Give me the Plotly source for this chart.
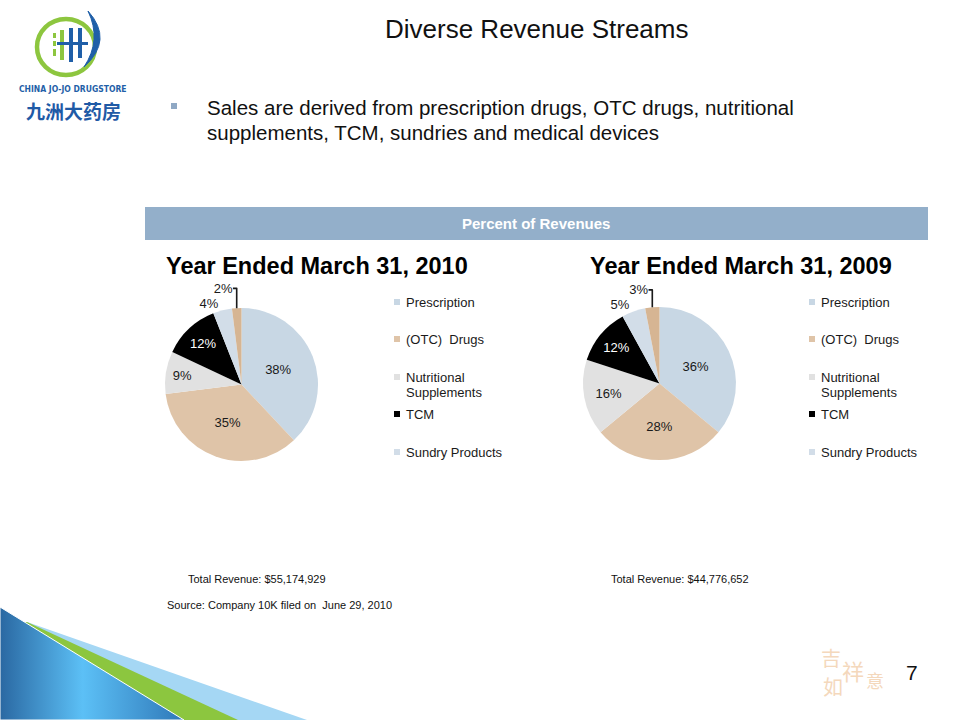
import plotly.graph_objects as go

# ---------------- data ----------------
categories = ["Prescription", "(OTC)  Drugs", "Nutritional Supplements", "TCM", "Sundry Products", "Medical Devices"]
legend_labels = [["Prescription"], ["(OTC)  Drugs"], ["Nutritional", "Supplements"], ["TCM"], ["Sundry Products"]]
share_2010 = [38, 35, 9, 12, 4, 2]
share_2009 = [36, 28, 16, 12, 5, 3]
slice_colors = ["#c8d7e4", "#dfc4a8", "#e1e1e1", "#000000", "#d2dde8", "#d6b593"]
text_colors = ["#1a1a1a", "#1a1a1a", "#1a1a1a", "#ffffff", "#1a1a1a", "#1a1a1a"]
text_pos = ["inside", "inside", "inside", "inside", "outside", "outside"]
panel_titles = ["Year Ended March 31, 2010", "Year Ended March 31, 2009"]
totals = ["Total Revenue: $55,174,929", "Total Revenue: $44,776,652"]
bullet_lines = ["Sales are derived from prescription drugs, OTC drugs, nutritional",
                "supplements, TCM, sundries and medical devices"]

W, H = 960, 720
FONT = "Liberation Sans, Arial, sans-serif"


def dom_x(x0, x1):
    return [x0 / W, x1 / W]


def dom_y(y0, y1):
    return [1 - y1 / H, 1 - y0 / H]


fig = go.Figure()

# hidden pixel-space axes for decorations
fig.update_layout(
    xaxis=dict(range=[0, W], visible=False, fixedrange=True, domain=[0, 1]),
    yaxis=dict(range=[H, 0], visible=False, fixedrange=True, domain=[0, 1]),
)

# bottom-left decorative wedges
fig.add_trace(go.Scatter(
    x=[27, 307, 0, 0, 27], y=[622, 720, 720, 622, 622],
    fill="toself", mode="lines", line=dict(width=0), fillcolor="#a5d7f4",
    hoverinfo="skip", showlegend=False))
fig.add_trace(go.Scatter(
    x=[27, 238, 0, 0, 27], y=[622, 720, 720, 622, 622],
    fill="toself", mode="lines", line=dict(width=0), fillcolor="#8cc63f",
    hoverinfo="skip", showlegend=False))
fig.add_trace(go.Scatter(
    x=[0, 184, 0, 0], y=[607, 720, 720, 607],
    fill="toself", mode="lines", line=dict(width=1, color="#ffffff"),
    fillgradient=dict(type="horizontal",
                      colorscale=[[0, "#2a68a2"], [0.45, "#5cc0f6"], [1, "#2f78b8"]]),
    hoverinfo="skip", showlegend=False))

pie_centers = [(241.5, 384.5), (659.5, 383.5)]
R = 76.5
for i, vals in enumerate([share_2010, share_2009]):
    cx, cy = pie_centers[i]
    fig.add_trace(go.Pie(
        labels=categories, values=vals, sort=False, direction="clockwise", rotation=0,
        marker=dict(colors=slice_colors, line=dict(width=0)),
        texttemplate="%{percent:.0%}", textposition=text_pos,
        insidetextorientation="horizontal",
        textfont=dict(family=FONT, size=13, color=text_colors),
        outsidetextfont=dict(family=FONT, size=13, color="#1a1a1a"),
        domain=dict(x=dom_x(cx - R, cx + R), y=dom_y(cy - R, cy + R)),
        showlegend=False, hoverinfo="label+percent"))

shapes = []
ann = []

# banner
shapes.append(dict(type="rect", xref="x", yref="y", x0=145, x1=928, y0=207, y1=240,
                   fillcolor="#93afca", line=dict(width=0), layer="below"))
ann.append(dict(x=536, y=223.5, text="<b>Percent of Revenues</b>", showarrow=False,
                font=dict(family=FONT, size=15, color="white")))

# title
ann.append(dict(x=536, y=29, text="Diverse Revenue Streams", showarrow=False,
                font=dict(family=FONT, size=26, color="#111111")))
# bullet
shapes.append(dict(type="rect", xref="x", yref="y", x0=171, x1=177, y0=103, y1=109,
                   fillcolor="#8fa8c4", line=dict(width=0)))
for li, line in enumerate(bullet_lines):
    ann.append(dict(x=205, y=107 + 25 * li, xanchor="left", align="left", showarrow=False,
                    text=line, font=dict(family=FONT, size=20.5, color="#111111")))

# panel titles, legends, totals
title_x = [164, 588]
legend_x = [394, 809]
legend_y = [302, 339, 377, 414, 452]
total_x = [186, 609]
for p in range(2):
    ann.append(dict(x=title_x[p], y=266, xanchor="left", showarrow=False,
                    text="<b>" + panel_titles[p] + "</b>",
                    font=dict(family=FONT, size=23.5, color="#000000")))
    for k, lines in enumerate(legend_labels):
        yy = legend_y[k]
        shapes.append(dict(type="rect", xref="x", yref="y", x0=legend_x[p], x1=legend_x[p] + 6,
                           y0=yy - 3, y1=yy + 3, fillcolor=slice_colors[k], line=dict(width=0)))
        for j, txt in enumerate(lines):
            ann.append(dict(x=legend_x[p] + 10, y=yy + 15 * j, xanchor="left",
                            showarrow=False, text=txt,
                            font=dict(family=FONT, size=13, color="#1a1a1a")))
    ann.append(dict(x=total_x[p], y=579, xanchor="left", showarrow=False, text=totals[p],
                    font=dict(family=FONT, size=11, color="#111111")))

ann.append(dict(x=165, y=605, xanchor="left", showarrow=False,
                text="Source: Company 10K filed on  June 29, 2010",
                font=dict(family=FONT, size=11, color="#111111")))

# page number
ann.append(dict(x=912, y=672, showarrow=False, text="7",
                font=dict(family=FONT, size=21, color="#111111")))

# faint seal
seal = [("吉", 831, 657, 20), ("如", 833, 686, 20), ("祥", 853, 670, 22), ("意", 875, 680, 18)]
for ch, sx, sy, sz in seal:
    ann.append(dict(x=sx, y=sy, text=ch, showarrow=False,
                    font=dict(family="Noto Sans CJK SC", size=sz, color="#f4d8bc")))

# logo
shapes.append(dict(type="circle", xref="x", yref="y", x0=37, x1=95, y0=19, y1=75,
                   line=dict(color="#8dc63f", width=4.5)))
shapes.append(dict(type="path", xref="x", yref="y",
                   path="M 88 11 Q 114 40 84 67 Q 102 40 88 11 Z",
                   fillcolor="#1f5fa8", line=dict(color="#1f5fa8", width=1)))
for bx0, by0, bx1, by1, col in [(53, 33, 56, 38, "#8dc63f"), (53, 41, 56, 46, "#8dc63f"),
                                (53, 49, 56, 56, "#8dc63f"), (60, 30, 64, 60, "#8dc63f"),
                                (69, 28, 73, 62, "#1f5fa8"), (78, 28, 82, 58, "#1f5fa8"),
                                (57, 42, 88, 45, "#1f5fa8")]:
    shapes.append(dict(type="rect", xref="x", yref="y", x0=bx0, x1=bx1, y0=by0, y1=by1,
                       fillcolor=col, line=dict(width=0)))
ann.append(dict(x=73, y=89, showarrow=False, text="<b>CHINA JO-JO DRUGSTORE</b>",
                font=dict(family="DejaVu Sans Condensed, Liberation Sans Narrow, sans-serif",
                          size=8.5, color="#1f5fa8")))
ann.append(dict(x=73, y=110, showarrow=False, text="<b>九洲大药房</b>",
                font=dict(family="Noto Sans CJK SC", size=19, color="#1f5aa6")))

for a in ann:
    a.setdefault("xref", "x")
    a.setdefault("yref", "y")

fig.update_layout(
    width=W, height=H, margin=dict(l=0, r=0, t=0, b=0),
    paper_bgcolor="white", plot_bgcolor="white",
    shapes=shapes, annotations=ann, showlegend=False,
)

fig.write_html("out.html", config={"displayModeBar": False},
               post_script="document.body.style.margin='0';")
